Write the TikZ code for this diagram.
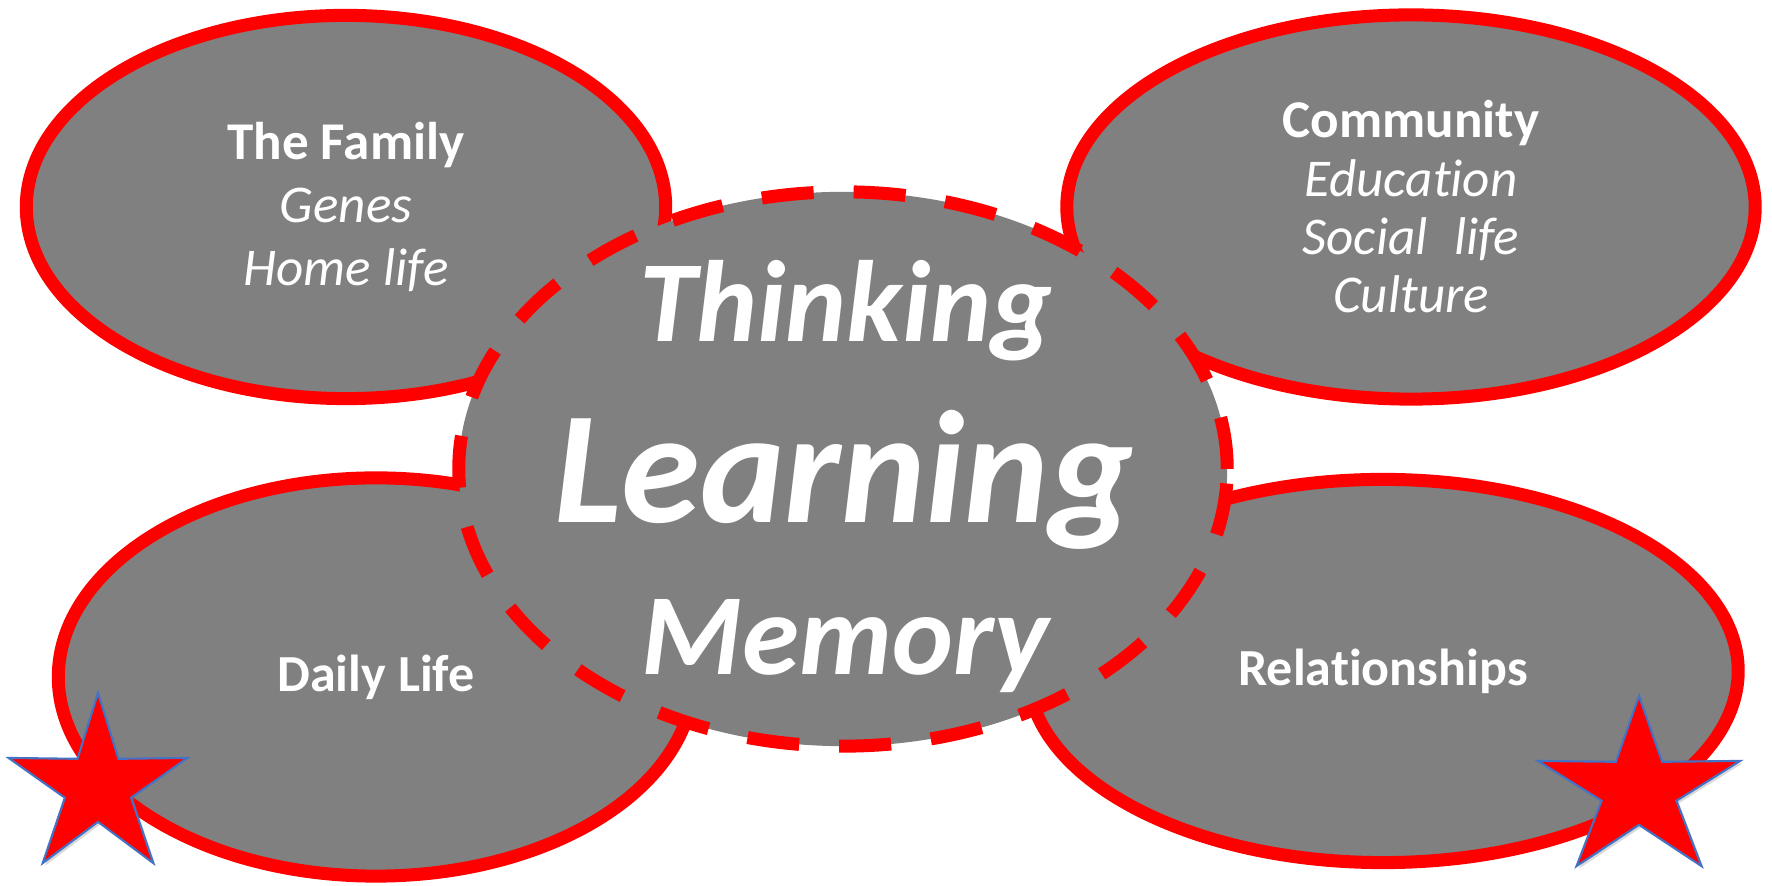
\documentclass[tikz,border=0pt]{standalone}
\usepackage{fontspec}
\setmainfont{Carlito}[Ligatures=NoCommon]
\usetikzlibrary{shapes.geometric,shadows}
\definecolor{ring}{HTML}{FF0000}
\definecolor{blob}{HTML}{808080}
\definecolor{starline}{HTML}{4472C4}

\begin{document}
\begin{tikzpicture}[
  x=0.01cm, y=-0.01cm,
  area/.style={ellipse, draw=ring, fill=blob, line width=1.3mm, inner sep=0pt, text=white, align=center},
  core/.style={area, dash pattern=on 5.2mm off 4mm},
  word/.style={text=white, anchor=base, inner sep=0pt},
  badge/.style={star, star points=5, star point ratio=2.7, fill=ring, draw=starline, line width=0.6pt, inner sep=0pt, minimum size=18.8mm,
    drop shadow={shadow xshift=0.7pt, shadow yshift=-0.7pt, opacity=0.3}}
  ]
  \useasboundingbox (0,0) rectangle (1772,886);
  % four outer areas
  \node[area, minimum width=6.39cm, minimum height=3.83cm, font=\fontsize{15.1}{17.9}\selectfont] (family) at (346,207)
    {\textbf{The Family}\\\textit{Genes}\\\textit{Home life}};
  \node[area, minimum width=6.88cm, minimum height=3.84cm, font=\fontsize{15.1}{16.6}\selectfont] (community) at (1411,207)
    {\textbf{Community}\\\textit{Education}\\\textit{Social\hspace{0.5em}life}\\\textit{Culture}};
  \node[area, minimum width=6.35cm, minimum height=3.98cm, font=\fontsize{14.8}{17}\selectfont\bfseries] (daily) at (376,677) {Daily Life};
  \node[area, minimum width=7.10cm, minimum height=3.83cm, font=\fontsize{14.8}{17}\selectfont\bfseries] (relations) at (1383,671) {Relationships};
  % centre
  \node[core, minimum width=7.68cm, minimum height=5.54cm] (centre) at (843,469) {};
  \node[word, font=\fontsize{32.9}{36}\selectfont\bfseries\itshape] (thinking) at (846,342) {Thinking};
  \node[word, font=\fontsize{45.5}{50}\selectfont\bfseries\itshape] (learning) at (844,523) {Learning};
  \node[word, font=\fontsize{32.9}{36}\selectfont\bfseries\itshape] (memory) at (845,675) {Memory};
  % stars
  \node[badge] (lstar) at (98,787) {};
  \node[badge, transform shape, xscale=1.13] (rstar) at (1639,790) {};
\end{tikzpicture}
\end{document}
